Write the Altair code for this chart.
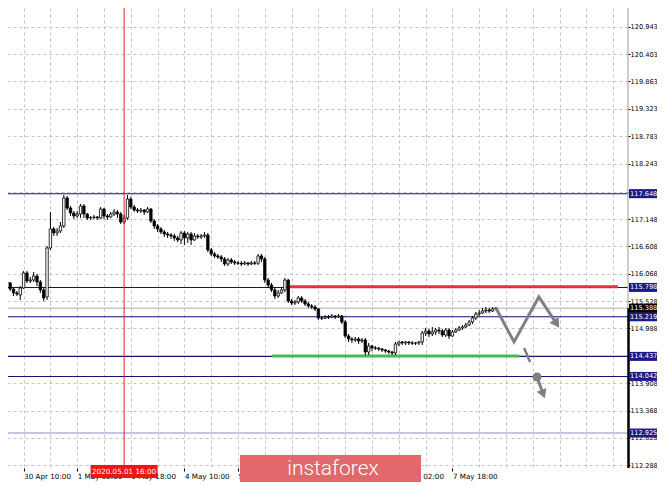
import altair as alt
import pandas as pd

# ---------------- data (H1 bars, index 0 = 30 Apr 10:00) ----------------
bar_idx = list(range(-7, 142))
opens = [
    115.925, 115.945, 115.906, 115.886, 115.767, 115.689, 115.649,
    115.787, 116.084, 115.925, 115.945, 116.024, 115.906, 115.748, 115.610, 116.577, 116.952,
    116.873, 116.912, 117.011, 117.563, 117.366, 117.267, 117.208, 117.247, 117.405, 117.247,
    117.169, 117.175, 117.188, 117.169, 117.346, 117.208, 117.188, 117.247, 117.287, 117.247,
    117.090, 117.169, 117.543, 117.385, 117.326, 117.307, 117.326, 117.287, 117.346, 117.109,
    117.011, 116.952, 116.893, 116.853, 116.833, 116.814, 116.774, 116.735, 116.873, 116.774,
    116.853, 116.735, 116.814, 116.794, 116.814, 116.833, 116.538, 116.459, 116.419, 116.399,
    116.360, 116.261, 116.340, 116.301, 116.281, 116.275, 116.261, 116.281, 116.261, 116.281,
    116.275, 116.419, 116.360, 115.945, 115.846, 115.748, 115.629, 115.689, 115.748, 115.945,
    115.531, 115.491, 115.511, 115.590, 115.531, 115.472, 115.432, 115.412, 115.373, 115.195,
    115.190, 115.215, 115.210, 115.235, 115.215, 115.235, 115.116, 114.840, 114.781, 114.761,
    114.781, 114.741, 114.761, 114.524, 114.643, 114.603, 114.598, 114.584, 114.564, 114.544,
    114.524, 114.505, 114.682, 114.722, 114.702, 114.722, 114.702, 114.697, 114.702, 114.722,
    114.899, 114.939, 114.880, 114.919, 114.958, 114.939, 114.860, 114.958, 114.840, 114.919,
    114.958, 114.998, 115.018, 115.057, 115.116, 115.195, 115.274, 115.294, 115.333, 115.353,
    115.333, 115.373,
]
highs = [
    115.985, 115.965, 115.945, 115.906, 115.807, 115.728, 115.827,
    116.123, 116.123, 116.004, 116.103, 116.064, 115.945, 115.787, 116.617, 117.287, 116.991,
    116.971, 117.090, 117.622, 117.603, 117.405, 117.307, 117.307, 117.445, 117.445, 117.267,
    117.208, 117.228, 117.208, 117.385, 117.366, 117.247, 117.287, 117.346, 117.326, 117.287,
    117.228, 117.622, 117.583, 117.425, 117.366, 117.366, 117.346, 117.385, 117.366, 117.149,
    117.050, 116.991, 116.932, 116.893, 116.873, 116.853, 116.814, 116.912, 116.912, 116.893,
    116.893, 116.873, 116.853, 116.853, 116.893, 116.873, 116.577, 116.498, 116.459, 116.439,
    116.399, 116.380, 116.380, 116.340, 116.320, 116.320, 116.320, 116.301, 116.320, 116.320,
    116.459, 116.459, 116.399, 115.985, 115.886, 115.787, 115.748, 115.807, 115.985, 115.965,
    115.570, 115.550, 115.629, 115.629, 115.570, 115.511, 115.472, 115.452, 115.393, 115.235,
    115.254, 115.254, 115.274, 115.254, 115.274, 115.254, 115.156, 114.880, 114.820, 114.820,
    114.820, 114.801, 114.801, 114.702, 114.662, 114.643, 114.623, 114.603, 114.584, 114.564,
    114.544, 114.722, 114.741, 114.741, 114.741, 114.741, 114.741, 114.722, 114.741, 114.939,
    114.998, 114.978, 115.018, 114.998, 115.018, 114.978, 114.998, 114.998, 114.958, 114.998,
    115.037, 115.057, 115.097, 115.156, 115.235, 115.314, 115.353, 115.393, 115.412, 115.393,
    115.412, 115.412,
]
lows = [
    115.886, 115.866, 115.846, 115.728, 115.629, 115.629, 115.550,
    115.767, 115.886, 115.886, 115.906, 115.827, 115.689, 115.531, 115.550, 116.538, 116.814,
    116.814, 116.873, 116.971, 117.326, 117.208, 117.149, 117.169, 117.169, 117.169, 117.129,
    117.129, 117.149, 117.129, 117.149, 117.149, 117.129, 117.169, 117.208, 117.169, 117.050,
    117.050, 117.129, 117.346, 117.287, 117.267, 117.267, 117.228, 117.267, 117.070, 116.952,
    116.893, 116.853, 116.794, 116.774, 116.755, 116.715, 116.695, 116.656, 116.636, 116.676,
    116.636, 116.715, 116.755, 116.755, 116.774, 116.498, 116.419, 116.380, 116.360, 116.301,
    116.222, 116.222, 116.261, 116.241, 116.241, 116.222, 116.241, 116.222, 116.241, 116.241,
    116.241, 116.301, 115.886, 115.787, 115.708, 115.570, 115.590, 115.669, 115.708, 115.491,
    115.452, 115.452, 115.472, 115.491, 115.432, 115.393, 115.373, 115.333, 115.156, 115.156,
    115.176, 115.176, 115.195, 115.176, 115.195, 115.077, 114.801, 114.722, 114.702, 114.722,
    114.682, 114.702, 114.465, 114.465, 114.544, 114.564, 114.544, 114.524, 114.505, 114.485,
    114.465, 114.465, 114.643, 114.662, 114.662, 114.662, 114.662, 114.662, 114.662, 114.662,
    114.840, 114.820, 114.840, 114.860, 114.880, 114.820, 114.820, 114.781, 114.820, 114.899,
    114.939, 114.958, 114.998, 115.037, 115.077, 115.156, 115.235, 115.274, 115.294, 115.294,
    115.314, 115.353,
]
closes = [
    115.945, 115.906, 115.886, 115.767, 115.689, 115.669, 115.787,
    116.084, 115.925, 115.945, 116.024, 115.906, 115.748, 115.590, 116.577, 116.952, 116.873,
    116.912, 117.011, 117.563, 117.366, 117.267, 117.208, 117.247, 117.405, 117.247, 117.169,
    117.175, 117.188, 117.169, 117.346, 117.208, 117.188, 117.247, 117.287, 117.247, 117.090,
    117.169, 117.543, 117.385, 117.326, 117.307, 117.326, 117.287, 117.346, 117.109, 117.011,
    116.952, 116.893, 116.853, 116.833, 116.814, 116.774, 116.735, 116.873, 116.774, 116.853,
    116.735, 116.814, 116.794, 116.814, 116.833, 116.538, 116.459, 116.419, 116.399, 116.360,
    116.261, 116.340, 116.301, 116.281, 116.275, 116.261, 116.281, 116.261, 116.281, 116.275,
    116.419, 116.360, 115.945, 115.846, 115.748, 115.629, 115.689, 115.748, 115.945, 115.531,
    115.491, 115.511, 115.590, 115.531, 115.472, 115.432, 115.412, 115.373, 115.195, 115.190,
    115.215, 115.210, 115.235, 115.215, 115.235, 115.116, 114.840, 114.781, 114.761, 114.781,
    114.741, 114.761, 114.524, 114.643, 114.603, 114.598, 114.584, 114.564, 114.544, 114.524,
    114.505, 114.682, 114.722, 114.702, 114.722, 114.702, 114.697, 114.702, 114.722, 114.899,
    114.939, 114.880, 114.919, 114.958, 114.939, 114.860, 114.958, 114.840, 114.919, 114.958,
    114.998, 115.018, 115.057, 115.116, 115.195, 115.274, 115.294, 115.333, 115.353, 115.333,
    115.373, 115.388,
]

# x labels shown by the reference (the two fully under the watermark are hidden there)
x_label_idx = [0, 16, 32, 48, 64, 112, 128]
x_label_txt = ["30 Apr 10:00", "1 May 02:00", "1 May 18:00", "4 May 10:00", "5 May 02:00",
               "7 May 02:00", "7 May 18:00"]
y_tick_vals = [120.943, 120.403, 119.863, 119.323, 118.783, 118.243, 117.688, 117.148,
               116.608, 116.068, 115.528, 114.988, 114.448, 113.908, 113.368, 112.828, 112.288]

level_prices = [117.648, 115.798, 115.219, 114.437, 114.042, 112.925]
level_colors = ["#10107e", "#10107e", "#10107e", "#10107e", "#10107e", "#8c8cd2"]
bid_price = 115.388

red_idx = [78.6, 177.4]
red_price = 115.811
green_idx = [74.2, 148.0]
green_price = 114.445

path_idx = [141.0, 146.4, 153.8, 159.1]
path_price = [115.393, 114.722, 115.610, 115.083]
dash_idx = [149.4, 151.2]
dash_price = [114.603, 114.327]
drop_idx = [153.25, 155.1]
drop_price = [114.031, 113.694]

cross_idx = 30
cross_label = "2020.05.01 16:00"

# ---------------- scales / axes ----------------
X_DOM = [-4.657, 180.418]
Y_DOM = [112.235, 121.312]
xs = alt.Scale(domain=X_DOM, nice=False, zero=False, padding=0)
ys = alt.Scale(domain=Y_DOM, nice=False, zero=False, padding=0)

lab_expr = " : ".join(f"datum.value == {i} ? '{t}'" for i, t in zip(x_label_idx, x_label_txt)) + " : ''"
x_axis = alt.Axis(values=list(range(0, 177, 8)), grid=True, gridDash=[3, 3], gridColor="#c4c4c4",
                  labelExpr=lab_expr, labelAlign="left", labelFont="DejaVu Sans", labelFontSize=7.2,
                  labelColor="black", tickColor="black", tickSize=3,
                  tickOpacity={"condition": {"test": "datum.value % 16 === 0 && datum.value <= 128", "value": 1}, "value": 0},
                  domain=False, title=None, labelPadding=1, labelFlush=False, labelOverlap=False, labelBound=False)
y_axis = alt.Axis(orient="right", values=y_tick_vals, grid=True, gridDash=[3, 3], gridColor="#c4c4c4",
                  format=".3f", labelFont="DejaVu Sans", labelFontSize=6.6, labelColor="black",
                  tickColor="black", tickSize=2, labelPadding=0, domain=False, title=None,
                  labelOverlap=False, labelFlush=False, labelBaseline="middle")


def X(f, **kw):
    return alt.X(f, type="quantitative", scale=xs, axis=x_axis, **kw)


def Y(f, **kw):
    return alt.Y(f, type="quantitative", scale=ys, axis=y_axis, **kw)


candles = pd.DataFrame({"i": bar_idx, "o": opens, "h": highs, "l": lows, "c": closes})
levels = pd.DataFrame({"p": level_prices, "col": level_colors})
bid = pd.DataFrame({"p": [bid_price]})
red = pd.DataFrame({"a": [red_idx[0]], "b": [red_idx[1]], "p": [red_price]})
green = pd.DataFrame({"a": [green_idx[0]], "b": [green_idx[1]], "p": [green_price]})
path = pd.DataFrame({"i": path_idx, "p": path_price, "k": list(range(len(path_idx)))})
dash = pd.DataFrame({"i": dash_idx, "p": dash_price, "k": [0, 1]})
drop = pd.DataFrame({"i": drop_idx, "p": drop_price, "k": [0, 1]})
cross = pd.DataFrame({"i": [cross_idx], "a": [cross_idx - 10], "b": [cross_idx + 10], "t": [cross_label]})
boxes = pd.DataFrame({"p": level_prices + [bid_price],
                      "fill": ["#1a1a88"] * 6 + ["#000000"],
                      "t": [f"{v:.3f}" for v in level_prices + [bid_price]]})

grid_layer = alt.Chart(bid).mark_rule(color="#c8c8c8", strokeWidth=1.5).encode(y=Y("p"))
level_layer = alt.Chart(levels).mark_rule(strokeWidth=1.1).encode(
    y=Y("p"), color=alt.Color("col:N", scale=None))
red_layer = alt.Chart(red).mark_rule(color="#e8303c", strokeWidth=3).encode(x=X("a"), x2="b", y=Y("p"))
green_layer = alt.Chart(green).mark_rule(color="#45b84f", strokeWidth=3).encode(x=X("a"), x2="b", y=Y("p"))

wicks = alt.Chart(candles).mark_rule(color="black", strokeWidth=1, clip=True).encode(
    x=X("i"), y=Y("l"), y2="h")
bodies = alt.Chart(candles).mark_bar(size=2.4, stroke="black", strokeWidth=0.8, clip=True).encode(
    x=X("i"), y=Y("o"), y2="c",
    fill=alt.condition("datum.c >= datum.o", alt.value("white"), alt.value("black")))

cross_line = alt.Chart(cross).mark_rule(color="#e41e1e", strokeWidth=1).encode(
    x=X("i"), y=alt.value(0), y2=alt.value(458))

gray = "#808080"
path_layer = alt.Chart(path).mark_line(color=gray, strokeWidth=3).encode(x=X("i"), y=Y("p"), order="k")
dash_layer = alt.Chart(dash).mark_line(color=gray, strokeWidth=2.5).encode(x=X("i"), y=Y("p"), order="k")
drop_layer = alt.Chart(drop).mark_line(color=gray, strokeWidth=3).encode(x=X("i"), y=Y("p"), order="k")
dot_layer = alt.Chart(pd.DataFrame({"i": [drop_idx[0]], "p": [drop_price[0]]})).mark_point(
    shape="circle", filled=True, size=81, color=gray, opacity=1).encode(x=X("i"), y=Y("p"))
head1 = alt.Chart(pd.DataFrame({"i": [path_idx[-1]], "p": [path_price[-1]]})).mark_point(
    shape="triangle-up", filled=True, size=120, angle=147, color=gray, opacity=1).encode(x=X("i"), y=Y("p"))
head2 = alt.Chart(pd.DataFrame({"i": [drop_idx[-1]], "p": [drop_price[-1]]})).mark_point(
    shape="triangle-up", filled=True, size=110, angle=159, color=gray, opacity=1).encode(x=X("i"), y=Y("p"))

border_top = alt.Chart(bid).mark_rule(color="#9a9a9a", strokeWidth=1).encode(
    x=alt.value(620), y=Y("p"), y2=alt.value(0))
border_bot = alt.Chart(bid).mark_rule(color="black", strokeWidth=2.5).encode(
    x=alt.value(620.5), y=Y("p"), y2=alt.value(460))

box_layer = alt.Chart(boxes).mark_rect(yOffset=-4.5, y2Offset=4.5).encode(
    x=alt.value(621), x2=alt.value(649), y=Y("p"), y2="p", color=alt.Color("fill:N", scale=None))
box_text = alt.Chart(boxes).mark_text(align="left", baseline="middle", font="DejaVu Sans",
                                      fontSize=6.6, color="white").encode(
    x=alt.value(622), y=Y("p"), text="t:N")

date_box = alt.Chart(cross).mark_rect(color="#f01414").encode(
    x=X("a"), x2="b", y=alt.value(457), y2=alt.value(470))
date_text = alt.Chart(cross).mark_text(font="DejaVu Sans", fontSize=7.2, color="white",
                                       align="center", baseline="middle").encode(
    x=X("i"), y=alt.value(464), text="t:N")

wm = pd.DataFrame({"t": ["instaforex"]})
wm_box = alt.Chart(wm).mark_rect(color="#e2686c").encode(
    x=alt.value(232), x2=alt.value(413), y=alt.value(447), y2=alt.value(474))
wm_text = alt.Chart(wm).mark_text(font="Roboto", fontSize=21, fontWeight=300, color="white",
                                  align="center", baseline="middle").encode(
    x=alt.value(325), y=alt.value(461), text="t:N")

chart = alt.layer(
    grid_layer, level_layer, red_layer, green_layer, wicks, bodies, cross_line,
    path_layer, dash_layer, drop_layer, dot_layer, head1, head2,
    border_top, border_bot, box_layer, box_text, date_box, date_text, wm_box, wm_text,
).properties(
    width=620, height=460,
    padding={"left": 0, "top": 0, "right": 29, "bottom": 18},
    autosize=alt.AutoSizeParams(type="none"),
    background="white",
).configure_view(strokeWidth=0)

chart.save("out.html", embed_options={"renderer": "svg", "actions": False})
